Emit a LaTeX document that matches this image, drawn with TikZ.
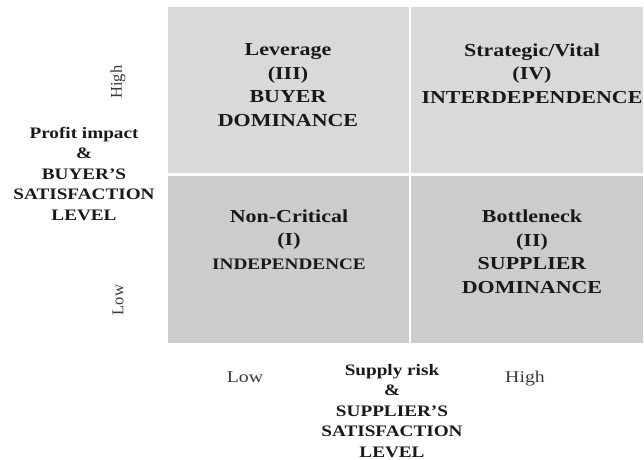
\documentclass[tikz,border=0pt]{standalone}
\usepackage{fontspec}
\setmainfont{Liberation Serif}[FakeStretch=1.2]
\newfontfamily\uprightfont{Liberation Serif}
\definecolor{topgray}{HTML}{D9D9D9}
\definecolor{lowgray}{HTML}{CCCCCC}
\definecolor{axisgray}{HTML}{3A3A3A}
\tikzset{
  quadtitle/.style={align=center,inner sep=0pt,anchor=base,text=black!90,
    font=\bfseries\fontsize{18.3}{23.5}\selectfont},
  axistitle/.style={align=center,inner sep=0pt,anchor=base,text=black!90,
    font=\bfseries\fontsize{16}{20.5}\selectfont},
  levellabel/.style={inner sep=0pt,text=axisgray,font=\fontsize{16.5}{20}\selectfont}
}
\begin{document}
\begin{tikzpicture}[x=1pt,y=-1pt]
\useasboundingbox (0,0) rectangle (644,459);
% the four quadrants
\fill[topgray] (168,7) rectangle (409,173);
\fill[topgray] (411,7) rectangle (643,173);
\fill[lowgray] (168,176) rectangle (409,343);
\fill[lowgray] (411,176) rectangle (643,343);
% quadrant texts (placed at the baseline of their last line)
\node[quadtitle] (leverage) at (288,126) {Leverage\\(III)\\BUYER\\DOMINANCE};
\node[quadtitle] (strategic) at (532,103) {Strategic/Vital\\(IV)\\INTERDEPENDENCE};
\node[quadtitle] (noncritical) at (289,269) {Non-Critical\\(I)\\{\fontsize{16}{20}\selectfont INDEPENDENCE}};
\node[quadtitle] (bottleneck) at (532,293) {Bottleneck\\(II)\\SUPPLIER\\DOMINANCE};
% vertical axis
\node[axistitle] (profit) at (84,220) {Profit impact\\\&\\BUYER'S\\SATISFACTION\\LEVEL};
\node[levellabel,rotate=90,font=\uprightfont\fontsize{16.5}{20}\selectfont] (yhigh) at (118,82) {High};
\node[levellabel,rotate=90,font=\uprightfont\fontsize{16.5}{20}\selectfont] (ylow) at (118,300) {Low};
% horizontal axis
\node[axistitle] (supply) at (392,457) {Supply risk\\\&\\SUPPLIER'S\\SATISFACTION\\LEVEL};
\node[levellabel,anchor=base] (xlow) at (245,382) {Low};
\node[levellabel,anchor=base] (xhigh) at (525,382) {High};
\end{tikzpicture}
\end{document}
